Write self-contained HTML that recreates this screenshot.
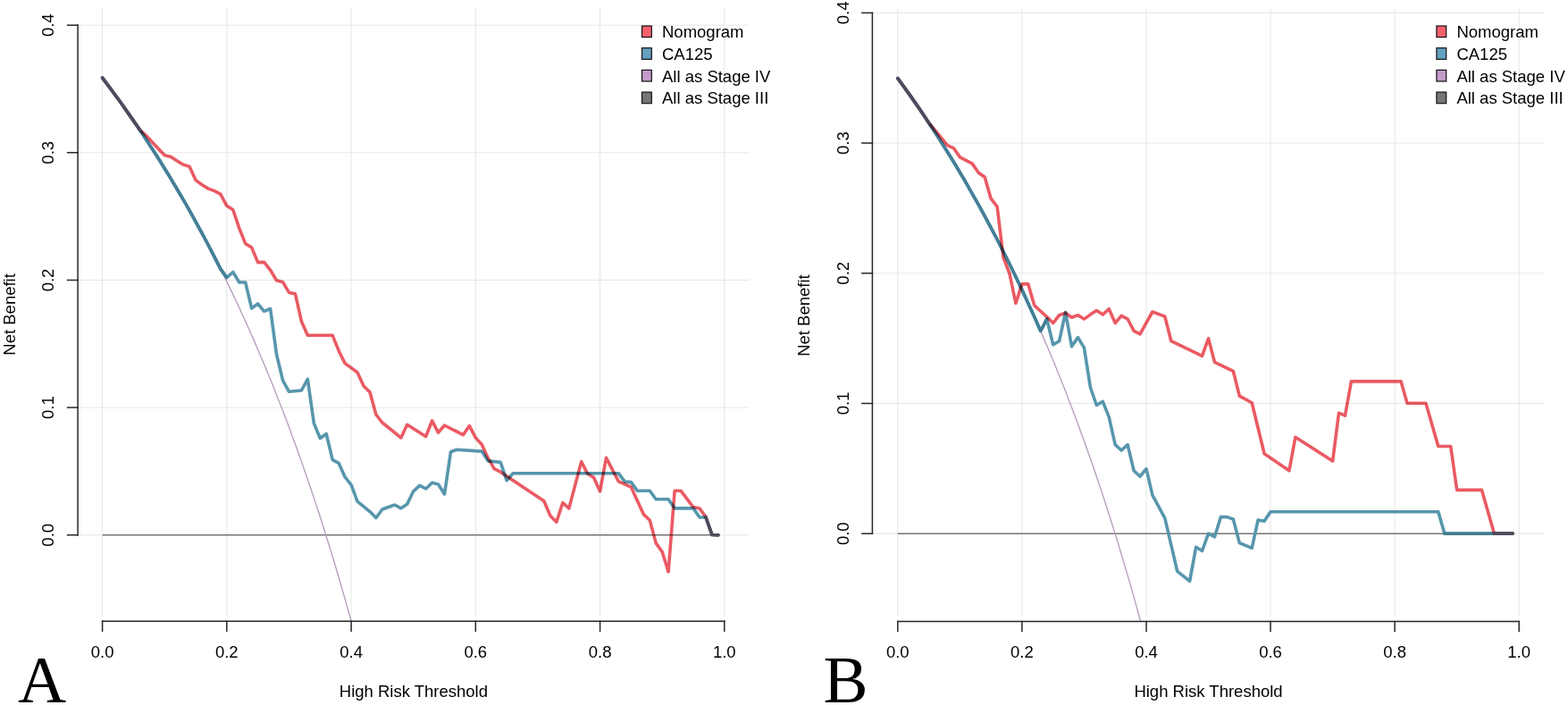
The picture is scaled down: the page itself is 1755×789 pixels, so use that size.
<!DOCTYPE html>
<html><head><meta charset="utf-8"><title>Decision curves</title>
<style>
html,body{margin:0;padding:0;background:#fff;}
svg{display:block;}
text{font-family:"Liberation Sans", Arial, sans-serif;}
</style></head><body>
<svg width="1755" height="789" viewBox="0 0 1755 789">
<rect width="1755" height="789" fill="#fff"/>
<defs><clipPath id="ca"><rect x="87.2" y="8.5" width="751.4" height="686.8"/></clipPath>
<clipPath id="cb"><rect x="977.0" y="10.5" width="751.0" height="685.1"/></clipPath></defs>
<g id="plotA">
<g stroke="#E6E6E6" stroke-width="1" fill="none"><line x1="114.6" y1="8.5" x2="114.6" y2="689.3" /><line x1="253.8" y1="8.5" x2="253.8" y2="689.3" /><line x1="393.1" y1="8.5" x2="393.1" y2="689.3" /><line x1="532.3" y1="8.5" x2="532.3" y2="689.3" /><line x1="671.6" y1="8.5" x2="671.6" y2="689.3" /><line x1="810.8" y1="8.5" x2="810.8" y2="689.3" /><line x1="87.2" y1="598.8" x2="838.6" y2="598.8" /><line x1="87.2" y1="456.1" x2="838.6" y2="456.1" /><line x1="87.2" y1="313.5" x2="838.6" y2="313.5" /><line x1="87.2" y1="170.8" x2="838.6" y2="170.8" /><line x1="87.2" y1="28.2" x2="838.6" y2="28.2" /></g>
<line x1="114.6" y1="598.8" x2="803.8" y2="598.8" stroke="#777777" stroke-width="1.5"/>
<polyline points="114.6,87.1 118.1,91.7 121.6,96.3 125,101 128.5,105.7 132,110.5 135.5,115.3 139,120.2 142.4,125.1 145.9,130.1 149.4,135.1 152.9,140.2 156.4,145.3 159.9,150.5 163.3,155.8 166.8,161.1 170.3,166.4 173.8,171.8 177.3,177.3 180.7,182.9 184.2,188.5 187.7,194.1 191.2,199.9 194.7,205.6 198.1,211.5 201.6,217.4 205.1,223.4 208.6,229.5 212.1,235.6 215.5,241.8 219,248.1 222.5,254.4 226,260.9 229.5,267.4 233,274 236.4,280.6 239.9,287.4 243.4,294.2 246.9,301.1 250.4,308.1 253.8,315.2 257.3,322.3 260.8,329.6 264.3,337 267.8,344.4 271.2,352 274.7,359.6 278.2,367.3 281.7,375.2 285.2,383.1 288.6,391.2 292.1,399.4 295.6,407.6 299.1,416 302.6,424.5 306.1,433.1 309.5,441.9 313,450.7 316.5,459.7 320,468.8 323.5,478.1 326.9,487.5 330.4,497 333.9,506.6 337.4,516.4 340.9,526.4 344.3,536.4 347.8,546.7 351.3,557.1 354.8,567.6 358.3,578.3 361.8,589.2 365.2,600.3 368.7,611.5 372.2,622.9 375.7,634.5 379.2,646.3 382.6,658.2 386.1,670.4 389.6,682.7 393.1,695.3" fill="none" stroke="#B99FBF" stroke-width="1.4" clip-path="url(#ca)"/>
<polyline points="114.6,87.1 121.6,96.3 128.5,105.7 135.5,115.3 142.4,125.1 149.4,135.1 156.4,145.3 163.3,155.8 170.3,166.4 177.3,177.3 184.2,188.5 191.2,199.9 198.1,211.5 205.1,223.4 212.1,235.6 219,248.1 226,260.9 233,274 239.9,287.4 246.9,301.1 253.8,310.6 260.8,304.5 267.8,316 274.7,316 281.7,345.1 288.6,340 295.6,348.3 302.6,345.5 309.5,396.5 316.5,425.6 323.5,438.3 337.4,437 344.3,424.3 351.3,473.6 358.3,490.5 365.2,485.5 372.2,514.6 379.2,518.4 386.1,533.8 393.1,542.7 400,561.2 407,566.9 414,572.6 420.9,579.5 427.9,570 434.9,567.5 441.8,565 448.8,568.8 455.7,564.3 462.7,549.8 469.7,543.4 476.6,547 483.6,540.2 490.5,542 497.5,553 504.5,505.7 511.4,503.2 539.3,505.1 546.2,515.9 560.2,517.4 567.1,537.7 574.1,529.8 692.4,529.8 699.4,539.1 706.4,539.6 713.3,549.3 727.3,549.3 734.2,558.8 748.1,558.8 755.1,568.9 776,568.9 783,579 789.9,579 796.9,598.5 803.8,598.8" fill="none" stroke="#5796AD" stroke-width="3.6" stroke-linejoin="round" stroke-linecap="round"/>
<polyline points="156.4,145.3 163.3,155.8 170.3,166.4 177.3,177.3 184.2,188.5 191.2,199.9 198.1,211.5 205.1,223.4 212.1,235.6 219,248.1 226,260.9 233,274 239.9,287.4 246.9,301.1 253.8,310.6" fill="none" stroke="#447F98" stroke-width="3.6" stroke-linejoin="round" stroke-linecap="round"/>
<polyline points="114.6,87.1 121.6,96.3 128.5,105.7 135.5,115.3 142.4,125.1 149.4,135.1 156.4,145.3 163.3,151.5 170.3,159 177.3,166.5 184.2,173.8 191.2,175.6 198.1,180 205.1,184.3 212.1,186.4 219,201.6 226,206.8 233,211.1 239.9,213.6 246.9,217.4 253.8,230.3 260.8,234.7 267.8,255.6 274.7,272.7 281.7,277.1 288.6,293.6 295.6,293.4 302.6,302.3 309.5,313.8 316.5,315.7 323.5,327.4 330.4,328.7 337.4,359.5 344.3,375.3 372.2,375.3 379.2,392.7 386.1,406.6 400,416.7 407,432 414,438.9 420.9,464 427.9,473 448.8,489.9 455.7,475.3 476.6,488.6 483.6,470.9 490.5,484.2 497.5,476 518.4,486.7 525.4,476.6 532.3,489.9 539.3,497.5 546.2,512.7 553.2,524.7 560.2,528.2 608.9,560.8 615.9,577.3 622.8,584.3 629.8,562.7 636.8,569 650.7,516.6 657.6,530.1 664.6,534.5 671.6,549.9 678.5,512.3 692.4,538.9 706.4,545.2 720.3,575.6 727.3,582.3 734.2,607.9 741.2,617.6 748.1,639.9 755.1,549.3 762.1,549.3 776,567.6 783,568.9 789.9,578.5 796.9,598.5 803.8,598.8" fill="none" stroke="#EA5A63" stroke-width="3.6" stroke-linejoin="round" stroke-linecap="round" style="mix-blend-mode:multiply"/>
<polyline points="114.6,87.1 121.6,96.3 128.5,105.7 135.5,115.3 142.4,125.1 149.4,135.1 156.4,145.3" fill="none" stroke="#4E4B5E" stroke-width="3.6" stroke-linejoin="round" stroke-linecap="round"/>
<polyline points="789.9,578.5 796.9,598.5 803.8,598.8" fill="none" stroke="#4E4B5E" stroke-width="3.6" stroke-linejoin="round" stroke-linecap="round"/>
<g stroke="#262626" stroke-width="1.5" stroke-linecap="square" fill="none"><line x1="87.1" y1="598.8" x2="87.1" y2="28.2"/><line x1="75.6" y1="598.8" x2="87.1" y2="598.8"/><line x1="75.6" y1="456.1" x2="87.1" y2="456.1"/><line x1="75.6" y1="313.5" x2="87.1" y2="313.5"/><line x1="75.6" y1="170.8" x2="87.1" y2="170.8"/><line x1="75.6" y1="28.2" x2="87.1" y2="28.2"/><line x1="114.6" y1="695.3" x2="810.8" y2="695.3"/><line x1="114.6" y1="695.3" x2="114.6" y2="706.3"/><line x1="253.8" y1="695.3" x2="253.8" y2="706.3"/><line x1="393.1" y1="695.3" x2="393.1" y2="706.3"/><line x1="532.3" y1="695.3" x2="532.3" y2="706.3"/><line x1="671.6" y1="695.3" x2="671.6" y2="706.3"/><line x1="810.8" y1="695.3" x2="810.8" y2="706.3"/></g>
<rect x="718.5" y="29" width="10.8" height="12.6" fill="#F4616B" stroke="#111" stroke-width="1.2"/><rect x="718.5" y="53.7" width="10.8" height="12.6" fill="#64A0BF" stroke="#111" stroke-width="1.2"/><rect x="718.5" y="78.4" width="10.8" height="12.6" fill="#C39BC9" stroke="#111" stroke-width="1.2"/><rect x="718.5" y="103.1" width="10.8" height="12.6" fill="#767676" stroke="#111" stroke-width="1.2"/>
<g font-size="18.5" fill="#000"><text transform="translate(60.3,598.8) rotate(-90)" text-anchor="middle">0.0</text><text transform="translate(60.3,456.1) rotate(-90)" text-anchor="middle">0.1</text><text transform="translate(60.3,313.5) rotate(-90)" text-anchor="middle">0.2</text><text transform="translate(60.3,170.8) rotate(-90)" text-anchor="middle">0.3</text><text transform="translate(60.3,28.2) rotate(-90)" text-anchor="middle">0.4</text><text x="114.6" y="735.5" text-anchor="middle">0.0</text><text x="253.8" y="735.5" text-anchor="middle">0.2</text><text x="393.1" y="735.5" text-anchor="middle">0.4</text><text x="532.3" y="735.5" text-anchor="middle">0.6</text><text x="671.6" y="735.5" text-anchor="middle">0.8</text><text x="810.8" y="735.5" text-anchor="middle">1.0</text><text x="462.9" y="779.7" text-anchor="middle">High Risk Threshold</text><text transform="translate(16.5,351.9) rotate(-90)" text-anchor="middle">Net Benefit</text><text x="741" y="42.1">Nomogram</text><text x="741" y="66.8">CA125</text><text x="741" y="91.5">All as Stage IV</text><text x="741" y="116.2">All as Stage III</text></g>
<text x="20" y="786" style="font-family:'Liberation Serif','Times New Roman',serif;font-size:75px" fill="#000">A</text>
</g>
<g id="plotB">
<g stroke="#E6E6E6" stroke-width="1" fill="none"><line x1="1004.8" y1="10.5" x2="1004.8" y2="689.6" /><line x1="1143.9" y1="10.5" x2="1143.9" y2="689.6" /><line x1="1283" y1="10.5" x2="1283" y2="689.6" /><line x1="1422" y1="10.5" x2="1422" y2="689.6" /><line x1="1561.1" y1="10.5" x2="1561.1" y2="689.6" /><line x1="1700.2" y1="10.5" x2="1700.2" y2="689.6" /><line x1="977" y1="597.2" x2="1728" y2="597.2" /><line x1="977" y1="451.5" x2="1728" y2="451.5" /><line x1="977" y1="305.8" x2="1728" y2="305.8" /><line x1="977" y1="160.1" x2="1728" y2="160.1" /><line x1="977" y1="14.4" x2="1728" y2="14.4" /></g>
<line x1="1004.8" y1="597.2" x2="1693.2" y2="597.2" stroke="#777777" stroke-width="1.5"/>
<polyline points="1004.8,87.6 1008.3,92.4 1011.8,97.2 1015.2,102 1018.7,106.9 1022.2,111.9 1025.7,116.9 1029.1,122 1032.6,127.1 1036.1,132.2 1039.6,137.5 1043,142.7 1046.5,148.1 1050,153.4 1053.5,158.9 1057,164.4 1060.4,170 1063.9,175.6 1067.4,181.3 1070.9,187 1074.3,192.8 1077.8,198.7 1081.3,204.7 1084.8,210.7 1088.2,216.8 1091.7,222.9 1095.2,229.1 1098.7,235.4 1102.2,241.8 1105.6,248.2 1109.1,254.8 1112.6,261.3 1116.1,268 1119.5,274.8 1123,281.6 1126.5,288.5 1130,295.5 1133.4,302.6 1136.9,309.8 1140.4,317 1143.9,324.4 1147.4,331.8 1150.8,339.4 1154.3,347 1157.8,354.8 1161.3,362.6 1164.7,370.5 1168.2,378.6 1171.7,386.7 1175.2,395 1178.7,403.3 1182.1,411.8 1185.6,420.4 1189.1,429.1 1192.6,437.9 1196,446.9 1199.5,456 1203,465.2 1206.5,474.5 1209.9,483.9 1213.4,493.5 1216.9,503.3 1220.4,513.2 1223.9,523.2 1227.3,533.3 1230.8,543.7 1234.3,554.1 1237.8,564.8 1241.2,575.6 1244.7,586.5 1248.2,597.6 1251.7,608.9 1255.1,620.4 1258.6,632.1 1262.1,643.9 1265.6,655.9 1269.1,668.1 1272.5,680.6 1276,693.2 1279.5,706" fill="none" stroke="#B99FBF" stroke-width="1.4" clip-path="url(#cb)"/>
<polyline points="1004.8,87.6 1011.8,97.2 1018.7,106.9 1025.7,116.9 1032.6,127.1 1039.6,137.5 1046.5,148.1 1053.5,158.9 1060.4,170 1067.4,181.3 1074.3,192.8 1081.3,204.7 1088.2,216.8 1095.2,229.1 1102.2,241.8 1109.1,254.8 1116.1,268 1123,281.6 1130,295.5 1136.9,309.8 1143.9,324.4 1150.8,339.4 1157.8,354.8 1164.7,370.5 1171.7,357.1 1178.7,385.8 1185.6,381.7 1192.6,349.5 1199.5,387.7 1206.5,377.6 1213.4,389.1 1220.4,433.5 1227.3,453.5 1234.3,449.4 1241.2,466.6 1248.2,497.6 1255.1,504 1262.1,497.6 1269.1,526.8 1276,533.2 1283,524.7 1289.9,554.2 1303.8,579.9 1317.7,639.3 1331.6,650.4 1338.6,612.3 1345.5,616.5 1352.5,597.2 1359.5,600.8 1366.4,578.6 1373.4,578.6 1380.3,581 1387.3,607.6 1401.2,613.3 1408.1,582 1415.1,583.3 1422,572.8 1609.8,572.8 1616.8,597.1 1693.2,597.1" fill="none" stroke="#5796AD" stroke-width="3.6" stroke-linejoin="round" stroke-linecap="round"/>
<polyline points="1039.6,137.5 1046.5,148.1 1053.5,158.9 1060.4,170 1067.4,181.3 1074.3,192.8 1081.3,204.7 1088.2,216.8 1095.2,229.1 1102.2,241.8 1109.1,254.8 1116.1,268 1123,281.6 1130,295.5 1136.9,309.8 1143.9,324.4 1150.8,339.4 1157.8,354.8 1164.7,370.5 1171.7,357.1" fill="none" stroke="#447F98" stroke-width="3.6" stroke-linejoin="round" stroke-linecap="round"/>
<polyline points="1616.8,597.2 1672.4,597.2" fill="none" stroke="#3F7D8B" stroke-width="3.6" stroke-linejoin="round" stroke-linecap="round"/>
<polyline points="1004.8,87.6 1011.8,97.2 1018.7,106.9 1025.7,116.9 1032.6,127.1 1039.6,137.5 1060.4,162.6 1067.4,165.8 1074.3,175.8 1088.2,183.1 1095.2,193.2 1102.2,198.3 1109.1,222.2 1116.1,231.3 1123,288 1130,306.3 1136.9,339.4 1143.9,317.9 1150.8,317.9 1157.8,341.9 1164.7,348.3 1171.7,354.6 1178.7,361.6 1185.6,352.7 1192.6,350.2 1199.5,355.2 1206.5,352.7 1213.4,357.1 1220.4,352.1 1227.3,347.6 1234.3,352.1 1241.2,345.7 1248.2,361.6 1255.1,353.3 1262.1,357 1269.1,370.3 1276,373.8 1289.9,349 1303.8,354.1 1310.8,381.7 1345.5,398.4 1352.5,378.8 1359.5,405.4 1380.3,415.3 1387.3,443.1 1401.2,450.8 1415.1,507.8 1442.9,526.8 1449.9,489.2 1491.6,516 1498.5,462.2 1505.5,465.2 1512.4,426.9 1568.1,426.9 1575,451.2 1595.9,451.2 1609.8,499.5 1623.7,499.5 1630.7,548.4 1658.5,548.4 1672.4,597.1 1693.2,597.1" fill="none" stroke="#EA5A63" stroke-width="3.6" stroke-linejoin="round" stroke-linecap="round" style="mix-blend-mode:multiply"/>
<polyline points="1004.8,87.6 1011.8,97.2 1018.7,106.9 1025.7,116.9 1032.6,127.1 1039.6,137.5" fill="none" stroke="#4E4B5E" stroke-width="3.6" stroke-linejoin="round" stroke-linecap="round"/>
<polyline points="1672.4,597.1 1693.2,597.1" fill="none" stroke="#4E4B5E" stroke-width="3.6" stroke-linejoin="round" stroke-linecap="round"/>
<g stroke="#262626" stroke-width="1.5" stroke-linecap="square" fill="none"><line x1="976.4" y1="597.2" x2="976.4" y2="14.4"/><line x1="964.9" y1="597.2" x2="976.4" y2="597.2"/><line x1="964.9" y1="451.5" x2="976.4" y2="451.5"/><line x1="964.9" y1="305.8" x2="976.4" y2="305.8"/><line x1="964.9" y1="160.1" x2="976.4" y2="160.1"/><line x1="964.9" y1="14.4" x2="976.4" y2="14.4"/><line x1="1004.8" y1="695.6" x2="1700.2" y2="695.6"/><line x1="1004.8" y1="695.6" x2="1004.8" y2="706.6"/><line x1="1143.9" y1="695.6" x2="1143.9" y2="706.6"/><line x1="1283" y1="695.6" x2="1283" y2="706.6"/><line x1="1422" y1="695.6" x2="1422" y2="706.6"/><line x1="1561.1" y1="695.6" x2="1561.1" y2="706.6"/><line x1="1700.2" y1="695.6" x2="1700.2" y2="706.6"/></g>
<rect x="1607.9" y="29" width="10.8" height="12.6" fill="#F4616B" stroke="#111" stroke-width="1.2"/><rect x="1607.9" y="53.7" width="10.8" height="12.6" fill="#64A0BF" stroke="#111" stroke-width="1.2"/><rect x="1607.9" y="78.4" width="10.8" height="12.6" fill="#C39BC9" stroke="#111" stroke-width="1.2"/><rect x="1607.9" y="103.1" width="10.8" height="12.6" fill="#767676" stroke="#111" stroke-width="1.2"/>
<g font-size="18.5" fill="#000"><text transform="translate(950.4,597.2) rotate(-90)" text-anchor="middle">0.0</text><text transform="translate(950.4,451.5) rotate(-90)" text-anchor="middle">0.1</text><text transform="translate(950.4,305.8) rotate(-90)" text-anchor="middle">0.2</text><text transform="translate(950.4,160.1) rotate(-90)" text-anchor="middle">0.3</text><text transform="translate(950.4,14.4) rotate(-90)" text-anchor="middle">0.4</text><text x="1004.8" y="735.6" text-anchor="middle">0.0</text><text x="1143.9" y="735.6" text-anchor="middle">0.2</text><text x="1283" y="735.6" text-anchor="middle">0.4</text><text x="1422" y="735.6" text-anchor="middle">0.6</text><text x="1561.1" y="735.6" text-anchor="middle">0.8</text><text x="1700.2" y="735.6" text-anchor="middle">1.0</text><text x="1352.5" y="779.7" text-anchor="middle">High Risk Threshold</text><text transform="translate(905.9,353.1) rotate(-90)" text-anchor="middle">Net Benefit</text><text x="1630.4" y="42.1">Nomogram</text><text x="1630.4" y="66.8">CA125</text><text x="1630.4" y="91.5">All as Stage IV</text><text x="1630.4" y="116.2">All as Stage III</text></g>
<text x="921.6" y="786" style="font-family:'Liberation Serif','Times New Roman',serif;font-size:75px" fill="#000">B</text>
</g>
</svg>
</body></html>
